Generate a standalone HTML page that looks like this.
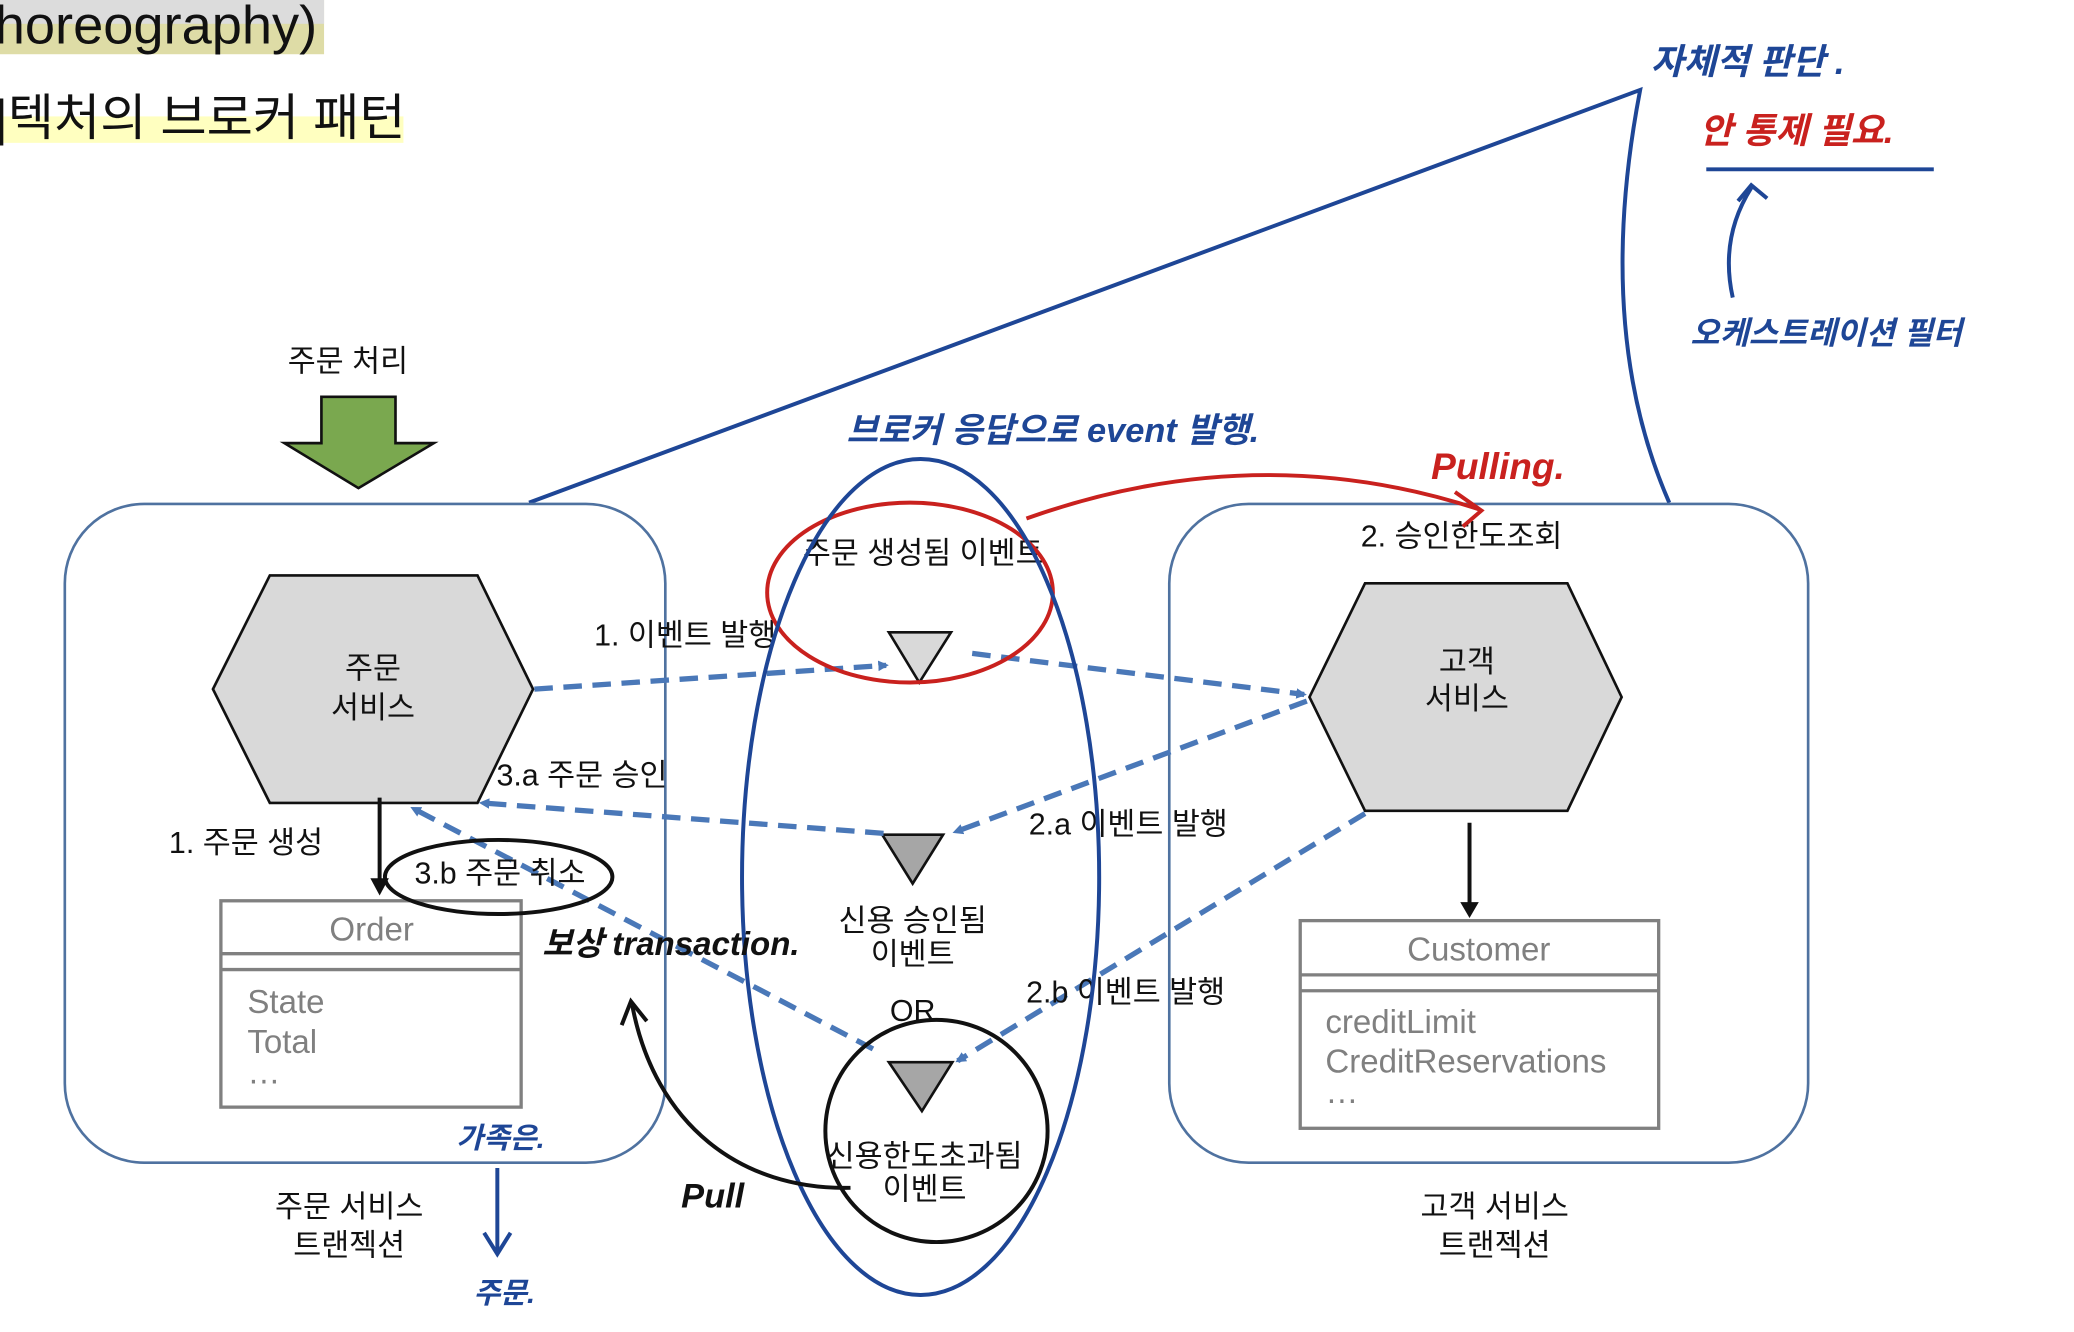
<!DOCTYPE html>
<html><head><meta charset="utf-8">
<style>
html,body{margin:0;padding:0;background:#fff;}
svg{display:block;}
text{font-family:"Liberation Sans","Noto Sans CJK KR",sans-serif;}
.k{font-size:23px;fill:#111;text-anchor:middle;}
.g{font-size:25px;fill:#808080;}
.hb{font-family:"Liberation Sans","Noto Sans CJK KR",sans-serif;font-style:italic;font-weight:bold;fill:#1e4696;}
.hr{font-family:"Liberation Sans","Noto Sans CJK KR",sans-serif;font-style:italic;font-weight:bold;fill:#c9211e;}
.d{stroke:#4a78b8;stroke-width:4;stroke-dasharray:14 8;fill:none;}
</style></head>
<body>
<svg width="2074" height="1332" viewBox="0 0 1568 1007" preserveAspectRatio="none" xmlns="http://www.w3.org/2000/svg">
<defs>
<marker id="ab" markerWidth="8" markerHeight="8" refX="6" refY="4" orient="auto" markerUnits="userSpaceOnUse" viewBox="0 0 8 8"><path d="M0,0 L8,4 L0,8 Z" fill="#4a78b8"/></marker>
</defs>
<rect x="0" y="0" width="245" height="41" fill="#dedca6"/>
<rect x="0" y="0" width="245" height="18" fill="#dcdcdc"/>
<text x="-4" y="33" style="font-size:41px;fill:#111">horeography)</text>
<rect x="0" y="88" width="305" height="20" fill="#ffffc0"/>
<text x="-4" y="102" style="font-size:38px;fill:#111">|텍처의 브로커 패턴</text>

<path d="M400,380 L1240,68 Q1205,250 1262,380" fill="none" stroke="#1e4696" stroke-width="3"/>
<text x="1248" y="56" class="hb" style="font-size:27px">자체적 판단 .</text>
<text x="1285" y="108" class="hr" style="font-size:27px">안 통제 필요.</text>
<line x1="1290" y1="128" x2="1462" y2="128" stroke="#1e4696" stroke-width="3"/>
<path d="M1310,225 Q1300,180 1324,142" fill="none" stroke="#1e4696" stroke-width="3"/>
<path d="M1314,152 L1324,140 L1336,150" fill="none" stroke="#1e4696" stroke-width="3"/>
<text x="1278" y="260" class="hb" style="font-size:24px">오케스트레이션 필터</text>
<text x="640" y="334" class="hb" style="font-size:26px">브로커 응답으로 event 발행.</text>
<text x="1082" y="362" class="hr" style="font-size:28px">Pulling.</text>

<text x="263" y="281" class="k">주문 처리</text>
<path d="M243,300 L299,300 L299,335 L328,335 L271,369 L215,335 L243,335 Z" fill="#7aa84f" stroke="#111" stroke-width="2"/>

<rect x="49" y="381" width="454" height="498" rx="60" fill="none" stroke="#4f72a0" stroke-width="2"/>
<rect x="884" y="381" width="483" height="498" rx="60" fill="none" stroke="#4f72a0" stroke-width="2"/>
<text x="1105" y="413" class="k">2. 승인한도조회</text>

<polygon points="161,521 204,435 361,435 403,521 361,607 204,607" fill="#d9d9d9" stroke="#111" stroke-width="2"/>
<text x="282" y="513" class="k">주문</text>
<text x="282" y="543" class="k">서비스</text>
<polygon points="990,527 1032,441 1185,441 1226,527 1185,613 1032,613" fill="#d9d9d9" stroke="#111" stroke-width="2"/>
<text x="1109" y="508" class="k">고객</text>
<text x="1109" y="536" class="k">서비스</text>

<line x1="287" y1="603" x2="287" y2="667" stroke="#111" stroke-width="3"/>
<path d="M280,664 L287,677 L294,664 Z" fill="#111"/>
<line x1="1111" y1="622" x2="1111" y2="684" stroke="#111" stroke-width="3"/>
<path d="M1104,682 L1111,694 L1118,682 Z" fill="#111"/>
<text x="186" y="645" class="k">1. 주문 생성</text>

<rect x="167" y="681" width="227" height="156" fill="#fff" stroke="#808080" stroke-width="2.5"/>
<line x1="167" y1="721" x2="394" y2="721" stroke="#808080" stroke-width="2.5"/>
<line x1="167" y1="733" x2="394" y2="733" stroke="#808080" stroke-width="2.5"/>
<text x="281" y="711" class="g" text-anchor="middle">Order</text>
<text x="187" y="766" class="g">State</text>
<text x="187" y="796" class="g">Total</text>
<text x="187" y="819" class="g">…</text>

<rect x="983" y="696" width="271" height="157" fill="#fff" stroke="#808080" stroke-width="2.5"/>
<line x1="983" y1="737" x2="1254" y2="737" stroke="#808080" stroke-width="2.5"/>
<line x1="983" y1="749" x2="1254" y2="749" stroke="#808080" stroke-width="2.5"/>
<text x="1118" y="726" class="g" text-anchor="middle">Customer</text>
<text x="1002" y="781" class="g">creditLimit</text>
<text x="1002" y="811" class="g">CreditReservations</text>
<text x="1002" y="834" class="g">…</text>

<polygon points="672,478 719,478 695,516" fill="#d9d9d9" stroke="#111" stroke-width="2"/>
<polygon points="667,631 713,631 690,668" fill="#a6a6a6" stroke="#111" stroke-width="2"/>
<polygon points="672,803 720,803 697,840" fill="#a6a6a6" stroke="#111" stroke-width="2"/>
<text x="698" y="426" class="k">주문 생성됨 이벤트</text>
<text x="690" y="704" class="k">신용 승인됨</text>
<text x="690" y="729" class="k">이벤트</text>
<text x="690" y="772" class="k">OR</text>
<text x="699" y="882" class="k">신용한도초과됨</text>
<text x="699" y="907" class="k">이벤트</text>

<line x1="404" y1="521" x2="670" y2="503" class="d" marker-end="url(#ab)"/>
<line x1="735" y1="494" x2="986" y2="525" class="d" marker-end="url(#ab)"/>
<line x1="988" y1="530" x2="722" y2="629" class="d" marker-end="url(#ab)"/>
<line x1="668" y1="630" x2="364" y2="607" class="d" marker-end="url(#ab)"/>
<line x1="1032" y1="615" x2="724" y2="802" class="d" marker-end="url(#ab)"/>
<line x1="660" y1="793" x2="312" y2="611" class="d" marker-end="url(#ab)"/>
<text x="518" y="488" class="k">1. 이벤트 발행</text>
<text x="853" y="631" class="k">2.a 이벤트 발행</text>
<text x="440" y="594" class="k">3.a 주문 승인</text>
<text x="851" y="758" class="k">2.b 이벤트 발행</text>
<text x="378" y="668" class="k">3.b 주문 취소</text>

<ellipse cx="377" cy="663" rx="86" ry="28" fill="none" stroke="#111" stroke-width="3"/>
<ellipse cx="708" cy="855" rx="84" ry="84" fill="none" stroke="#111" stroke-width="3"/>
<ellipse cx="688" cy="448" rx="108" ry="68" fill="none" stroke="#c9211e" stroke-width="3"/>
<ellipse cx="696" cy="663" rx="135" ry="316" fill="none" stroke="#1e4696" stroke-width="3"/>

<path d="M776,392 Q950,330 1118,385" fill="none" stroke="#c9211e" stroke-width="3"/>
<path d="M1100,372 L1120,386 L1106,398" fill="none" stroke="#c9211e" stroke-width="3"/>

<path d="M643,898 C560,900 495,850 478,760" fill="none" stroke="#111" stroke-width="3"/>
<path d="M470,775 L477,757 L489,772" fill="none" stroke="#111" stroke-width="3"/>
<text x="515" y="913" style="font-size:26px;font-style:italic;font-weight:bold;fill:#111">Pull</text>
<text x="410" y="722" style="font-size:25px;font-style:italic;font-weight:bold;fill:#111">보상 transaction.</text>

<text x="345" y="868" class="hb" style="font-size:22px">가족은.</text>
<line x1="376" y1="883" x2="376" y2="948" stroke="#1e4696" stroke-width="3"/>
<path d="M366,932 L376,948 L386,932" fill="none" stroke="#1e4696" stroke-width="3"/>
<text x="358" y="985" class="hb" style="font-size:22px">주문.</text>

<text x="264" y="920" class="k">주문 서비스</text>
<text x="264" y="949" class="k">트랜젝션</text>
<text x="1130" y="920" class="k">고객 서비스</text>
<text x="1130" y="949" class="k">트랜젝션</text>
</svg>
</body></html>
